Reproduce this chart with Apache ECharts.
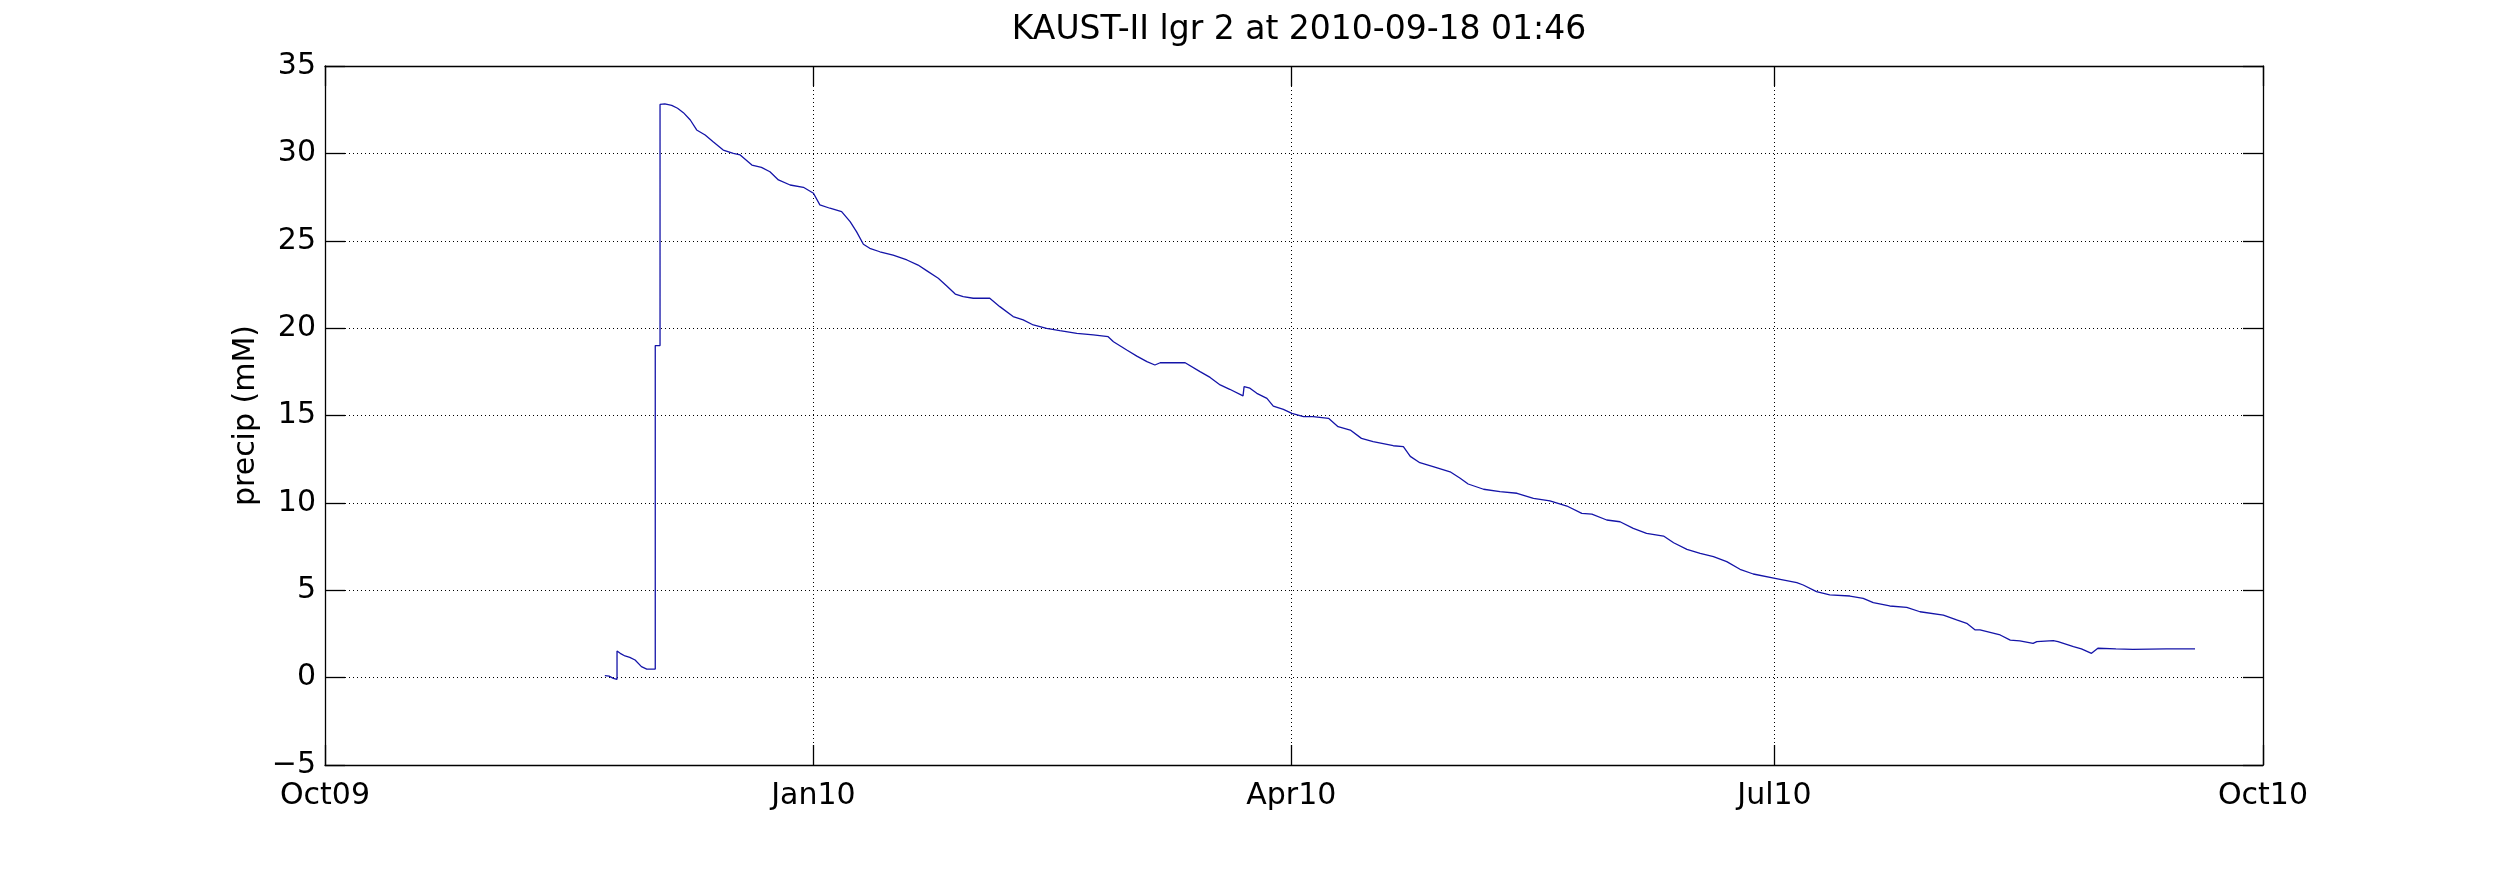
<!DOCTYPE html>
<html>
<head>
<meta charset="utf-8">
<script src="https://cdn.jsdelivr.net/npm/echarts@6/dist/echarts.min.js"></script>
<style>
html,body{margin:0;padding:0;background:#fff;}
#chart{width:2500px;height:875px;}
</style>
</head>
<body>
<div id="chart"></div>
<script>
// ---- data ----
const titleText = 'KAUST-II lgr 2 at 2010-09-18 01:46';
const yAxisName = 'precip (mM)';
// x ticks: [year, monthIndex]
const xTickDates = [[2009, 9], [2010, 0], [2010, 3], [2010, 6], [2010, 9]];
const xTickLabels = ['Oct09', 'Jan10', 'Apr10', 'Jul10', 'Oct10'];
const yMin = -5, yMax = 35, yStep = 5;
// days since 2009-10-01 00:00
const daysSinceOct1 = [
  52.7, 53.5, 54.3, 55.0, 55.0, 55.6, 56.5, 57.4, 58.4, 59.6, 60.6, 62.2,
  62.2, 63.1, 63.1, 63.3, 64.0, 65.3, 66.4, 67.5, 68.8, 70.0, 71.6, 73.1,
  75.0, 76.9, 78.2, 80.4, 82.2, 83.8, 85.4, 87.6, 90.1, 92.0, 93.2, 95.1,
  97.3, 98.9, 100.1, 101.4, 102.6, 104.5, 107.0, 109.6, 111.7, 113.3, 115.5, 117.1,
  118.7, 120.2, 122.1, 125.2, 127.1, 129.6, 131.5, 133.4, 135.9, 138.4, 141.6, 144.7,
  147.5, 148.5, 151.0, 152.9, 154.8, 156.3, 157.3, 162.0, 164.8, 166.7, 168.6, 170.4,
  172.9, 173.1, 174.2, 175.5, 177.4, 178.6, 180.5, 182.1, 184.3, 186.1, 189.0, 190.8,
  193.1, 195.2, 197.4, 201.2, 203.1, 204.4, 206.2, 208.7, 211.9, 213.8, 215.3, 218.2,
  221.3, 224.5, 227.6, 230.7, 233.9, 236.7, 238.6, 241.4, 243.9, 246.4, 248.9, 252.1,
  254.0, 256.5, 259.0, 261.5, 264.0, 266.5, 269.0, 273.1, 277.2, 278.4, 280.9, 283.4,
  287.2, 289.7, 291.6, 294.7, 297.9, 300.4, 304.8, 307.3, 309.2, 310.8, 311.7, 315.5,
  317.4, 319.2, 321.7, 322.4, 325.5, 326.4, 329.3, 330.8, 332.7, 333.9, 337.3, 340.5,
  346.8, 352.2
];
const precip = [
  0.11, 0.09, -0.04, -0.10, 1.52, 1.39, 1.24, 1.16, 1.01, 0.63, 0.49, 0.49,
  19.0, 19.0, 32.8, 32.87, 32.83, 32.75, 32.58, 32.33, 31.91, 31.34, 31.05, 30.67,
  30.19, 30.0, 29.91, 29.33, 29.2, 28.95, 28.48, 28.19, 28.06, 27.72, 27.05, 26.86,
  26.67, 26.09, 25.52, 24.8, 24.57, 24.37, 24.18, 23.9, 23.61, 23.29, 22.85, 22.41,
  21.95, 21.8, 21.71, 21.71, 21.23, 20.66, 20.47, 20.18, 19.99, 19.86, 19.7, 19.61,
  19.51, 19.22, 18.75, 18.4, 18.08, 17.89, 18.02, 18.02, 17.51, 17.18, 16.75, 16.5,
  16.12, 16.65, 16.56, 16.27, 15.98, 15.54, 15.35, 15.12, 14.93, 14.93, 14.84, 14.36,
  14.17, 13.69, 13.5, 13.27, 13.22, 12.66, 12.3, 12.07, 11.78, 11.41, 11.08, 10.78,
  10.64, 10.55, 10.26, 10.11, 9.82, 9.4, 9.36, 9.02, 8.92, 8.54, 8.26, 8.1,
  7.72, 7.34, 7.11, 6.92, 6.64, 6.2, 5.93, 5.68, 5.43, 5.3, 4.92, 4.73,
  4.67, 4.54, 4.29, 4.1, 4.02, 3.77, 3.58, 3.3, 3.11, 2.73, 2.73, 2.44,
  2.15, 2.1, 1.96, 2.06, 2.12, 2.06, 1.78, 1.65, 1.39, 1.68, 1.64, 1.62,
  1.64, 1.64
];

// ---- build ----
const DAY = 86400000;
const origin = Date.UTC(2009, 9, 1);
const seriesData = daysSinceOct1.map((d, i) => [origin + d * DAY, precip[i]]);
const xTicks = xTickDates.map(p => Date.UTC(p[0], p[1], 1));
const xMin = xTicks[0], xMax = xTicks[xTicks.length - 1];
const labelFor = v => {
  const i = xTicks.findIndex(t => Math.abs(t - v) < DAY);
  return i >= 0 ? xTickLabels[i] : '';
};

const FONT = 'DejaVu Sans';
const black = '#000';
const dotted = { show: true, lineStyle: { color: black, width: 1, type: [1, 3] } };

const chart = echarts.init(document.getElementById('chart'), null, { renderer: 'canvas' });
chart.setOption({
  animation: false,
  backgroundColor: '#fff',
  title: {
    text: titleText,
    left: 1294, top: 9, textAlign: 'center',
    textStyle: { fontFamily: FONT, fontSize: 33, fontWeight: 'normal', color: black }
  },
  grid: { left: 325, top: 66, right: 237, bottom: 110, containLabel: false },
  xAxis: [
    {
      type: 'value', min: xMin, max: xMax, position: 'bottom',
      axisLine: { show: true, onZero: false, lineStyle: { color: black, width: 1.3 } },
      axisTick: { show: true, inside: true, length: 20, customValues: xTicks, lineStyle: { color: black, width: 1.3 } },
      axisLabel: {
        show: true, customValues: xTicks, formatter: v => labelFor(v),
        fontFamily: FONT, fontSize: 30, color: black, margin: 16,
        hideOverlap: false, showMinLabel: true, showMaxLabel: true
      },
      splitLine: dotted
    },
    {
      type: 'value', min: xMin, max: xMax, position: 'top',
      axisLine: { show: true, onZero: false, lineStyle: { color: black, width: 1.3 } },
      axisTick: { show: true, inside: true, length: 20, customValues: xTicks, lineStyle: { color: black, width: 1.3 } },
      axisLabel: { show: false },
      splitLine: { show: false }
    }
  ],
  yAxis: [
    {
      type: 'value', min: yMin, max: yMax, interval: yStep, position: 'left',
      name: yAxisName, nameLocation: 'middle', nameGap: 52, nameRotate: 90,
      nameTextStyle: { fontFamily: FONT, fontSize: 30, color: black },
      axisLine: { show: true, onZero: false, lineStyle: { color: black, width: 1.3 } },
      axisTick: { show: true, inside: true, length: 20, lineStyle: { color: black, width: 1.3 } },
      axisLabel: {
        fontFamily: FONT, fontSize: 30, color: black, margin: 9,
        formatter: v => String(v).replace('-', '\u2212')
      },
      splitLine: dotted
    },
    {
      type: 'value', min: yMin, max: yMax, interval: yStep, position: 'right',
      axisLine: { show: true, onZero: false, lineStyle: { color: black, width: 1.3 } },
      axisTick: { show: true, inside: true, length: 20, lineStyle: { color: black, width: 1.3 } },
      axisLabel: { show: false },
      splitLine: { show: false }
    }
  ],
  series: [{
    type: 'line', xAxisIndex: 0, yAxisIndex: 0,
    data: seriesData, showSymbol: false, symbol: 'none',
    lineStyle: { color: '#1414a8', width: 1.3 },
    z: 3
  }]
});
</script>
</body>
</html>
